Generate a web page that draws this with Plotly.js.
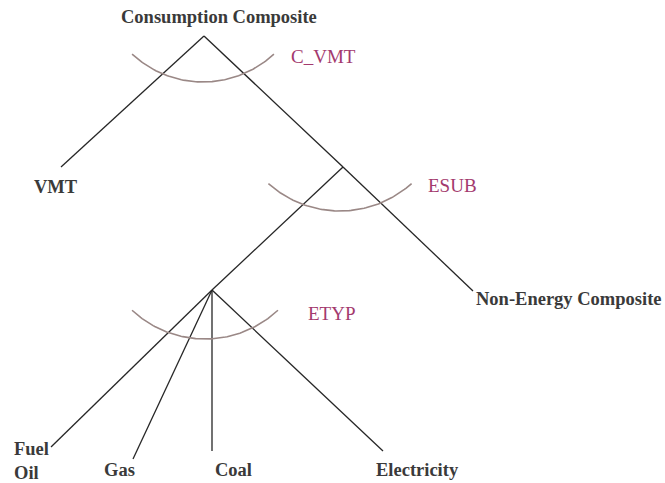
<!DOCTYPE html>
<html>
<head>
<meta charset="utf-8">
<script src="https://cdn.plot.ly/plotly-3.0.1.min.js"></script>
<style>html,body{margin:0;padding:0;background:#fff}#chart{width:665px;height:483px}</style>
</head>
<body>
<div id="chart"></div>
<script>
// Tree structure (nested CES structure)
var nodeNames = ["Consumption Composite", "VMT", "ESUB node", "Non-Energy Composite", "ETYP node", "Fuel Oil", "Gas", "Coal", "Electricity"];
var edgeParents = ["Consumption Composite", "Consumption Composite", "ESUB node", "ESUB node", "ETYP node", "ETYP node", "ETYP node", "ETYP node"];
var edgeChildren = ["VMT", "ESUB node", "ETYP node", "Non-Energy Composite", "Fuel Oil", "Gas", "Coal", "Electricity"];
var elasticityNodes = ["Consumption Composite", "ESUB node", "ETYP node"];
var elasticityLabels = ["C_VMT", "ESUB", "ETYP"];
var leafLabels = ["Consumption Composite", "VMT", "Non-Energy Composite", "Fuel<br>Oil", "Gas", "Coal", "Electricity"];

// Layout (pixel-space positions of the diagram)
var pos = {
  "Consumption Composite": [204, 36],
  "VMT": [61, 167],
  "ESUB node": [343, 167],
  "Non-Energy Composite": [473, 291],
  "ETYP node": [212, 290],
  "Fuel Oil": [51, 447],
  "Gas": [133, 459],
  "Coal": [212, 451],
  "Electricity": [383, 451]
};
var arcGeom = [ // centre x, centre y, radius, half-angle (deg)
  [203, -22, 104, 43],
  [340, 104, 107, 42],
  [205, 232, 107, 43]
];
var elastLabelPos = [[290, 56], [427, 185], [307, 313]];
var leafLabelPos = [[120, 17], [33, 187], [475, 299], [13, 461], [103, 470], [214, 470], [375, 470]];

var ex = [], ey = [];
for (var i = 0; i < edgeParents.length; i++) {
  var p = pos[edgeParents[i]], c = pos[edgeChildren[i]];
  ex.push(p[0], c[0], null); ey.push(p[1], c[1], null);
}
var traces = [{
  x: ex, y: ey, mode: "lines", type: "scatter", hoverinfo: "skip",
  line: {color: "#262626", width: 1.3}
}];
for (var a = 0; a < arcGeom.length; a++) {
  var g = arcGeom[a], ax = [], ay = [];
  for (var t = -g[3]; t <= g[3] + 0.001; t += 1) {
    var r = t * Math.PI / 180;
    ax.push(g[0] + g[2] * Math.sin(r)); ay.push(g[1] + g[2] * Math.cos(r));
  }
  traces.push({x: ax, y: ay, mode: "lines", type: "scatter", hoverinfo: "skip",
    line: {color: "#9a8886", width: 1.6}});
}

var ann = [];
for (var k = 0; k < leafLabels.length; k++) {
  var lp = leafLabelPos[k];
  ann.push({x: lp[0], y: lp[1], xref: "x", yref: "y", text: "<b>" + leafLabels[k] + "</b>",
    showarrow: false, xanchor: "left", yanchor: "middle", align: "left", borderpad: 0,
    font: {family: "Liberation Serif", size: 18.5, color: "#3a3a3a"}});
}
for (var m = 0; m < elasticityLabels.length; m++) {
  var ep = elastLabelPos[m];
  ann.push({x: ep[0], y: ep[1], xref: "x", yref: "y", text: elasticityLabels[m],
    showarrow: false, xanchor: "left", yanchor: "middle", borderpad: 0,
    font: {family: "Liberation Serif", size: 19, color: "#a33a6e"}});
}

var layout = {
  width: 665, height: 483,
  margin: {l: 0, r: 0, t: 0, b: 0},
  paper_bgcolor: "#ffffff", plot_bgcolor: "#ffffff",
  showlegend: false,
  xaxis: {range: [0, 665], visible: false, fixedrange: true},
  yaxis: {range: [483, 0], visible: false, fixedrange: true},
  annotations: ann
};
Plotly.newPlot("chart", traces, layout, {staticPlot: true, displayModeBar: false});
</script>
</body>
</html>
